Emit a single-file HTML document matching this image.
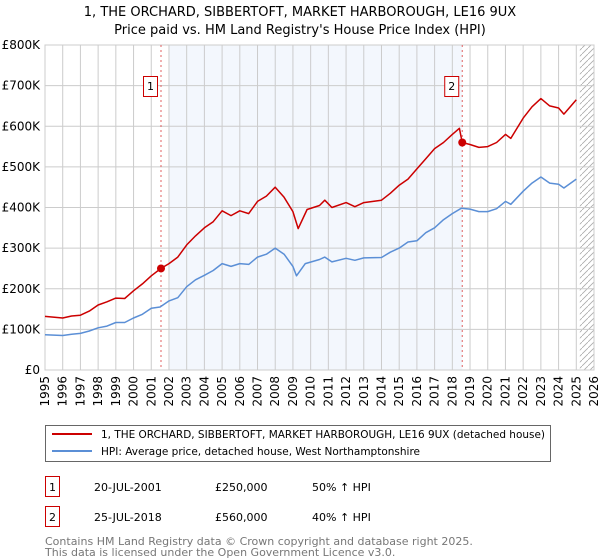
<!DOCTYPE html>
<html><head><meta charset="utf-8"><style>
body{margin:0;background:#fff;font-family:"Liberation Sans","DejaVu Sans",sans-serif;}
#wrap{position:relative;width:600px;height:560px;overflow:hidden}
</style></head><body><div id="wrap">
<svg id="svg" width="600" height="560" xmlns="http://www.w3.org/2000/svg" font-family="DejaVu Sans, Liberation Sans, sans-serif">
<text x="300" y="16" text-anchor="middle" font-size="13">1, THE ORCHARD, SIBBERTOFT, MARKET HARBOROUGH, LE16 9UX</text>
<text x="300" y="34" text-anchor="middle" font-size="13">Price paid vs. HM Land Registry's House Price Index (HPI)</text>
<g id="plot"></g>
<rect x="45.5" y="425.5" width="505" height="36" fill="#fff" stroke="#666"/>
<line x1="52" y1="434" x2="92" y2="434" stroke="#cc0000" stroke-width="2"/>
<text x="101" y="438" font-size="10.5" textLength="444" lengthAdjust="spacingAndGlyphs">1, THE ORCHARD, SIBBERTOFT, MARKET HARBOROUGH, LE16 9UX (detached house)</text>
<line x1="52" y1="451" x2="92" y2="451" stroke="#5b8fd6" stroke-width="2"/>
<text x="101" y="455" font-size="10.5">HPI: Average price, detached house, West Northamptonshire</text>
<g font-size="11">
<rect x="45.5" y="476.5" width="14" height="20" fill="#fff" stroke="#cc0000"/>
<text x="52.5" y="491" text-anchor="middle">1</text>
<text x="94" y="491">20-JUL-2001</text>
<text x="215" y="491">£250,000</text>
<text x="312" y="491">50% ↑ HPI</text>
<rect x="45.5" y="506.5" width="14" height="20" fill="#fff" stroke="#cc0000"/>
<text x="52.5" y="521" text-anchor="middle">2</text>
<text x="94" y="521">25-JUL-2018</text>
<text x="215" y="521">£560,000</text>
<text x="312" y="521">40% ↑ HPI</text>
</g>
<text x="45" y="545" font-size="11" fill="#777">Contains HM Land Registry data © Crown copyright and database right 2025.</text>
<text x="45" y="556" font-size="11" fill="#777">This data is licensed under the Open Government Licence v3.0.</text>
</svg></div>
<script>
const hpiYears=[1995,1996,1996.5,1997,1997.5,1998,1998.5,1999,1999.5,2000,2000.5,2001,2001.5,2002,2002.5,2003,2003.5,2004,2004.5,2005,2005.5,2006,2006.5,2007,2007.5,2008,2008.5,2009,2009.2,2009.7,2010.5,2010.8,2011.2,2012,2012.5,2013,2014,2014.5,2015,2015.5,2016,2016.5,2017,2017.5,2018,2018.5,2019,2019.5,2020,2020.5,2021,2021.3,2022,2022.5,2023,2023.5,2024,2024.3,2025];
const hpiValues=[87,85,88,90,96,104,108,117,117,128,137,152,155,170,178,205,222,233,245,262,255,262,260,278,285,300,285,255,232,262,272,278,266,275,270,276,277,290,300,315,318,338,350,370,385,398,396,390,390,397,415,408,440,460,475,460,457,448,470];
const propYears=[1995,1996,1996.5,1997,1997.5,1998,1998.5,1999,1999.5,2000,2000.5,2001,2001.55,2002,2002.5,2003,2003.5,2004,2004.5,2005,2005.5,2006,2006.5,2007,2007.5,2008,2008.5,2009,2009.3,2009.8,2010.5,2010.8,2011.2,2012,2012.5,2013,2014,2014.5,2015,2015.5,2016,2016.5,2017,2017.5,2018,2018.4,2018.56,2019,2019.5,2020,2020.5,2021,2021.3,2022,2022.5,2023,2023.5,2024,2024.3,2025];
const propValues=[132,128,133,135,145,160,168,177,176,195,212,232,250,262,278,308,330,350,365,392,380,392,385,415,428,450,425,390,348,395,405,418,400,412,402,412,418,435,455,470,495,520,545,560,580,595,560,555,548,550,560,580,570,620,648,668,650,645,630,665];
const saleYears=[2001.55,2018.56];
const saleValues=[250,560];
const saleLabels=["1","2"];
const yTicks=[0,100,200,300,400,500,600,700,800];
const yTickLabels=["£0","£100K","£200K","£300K","£400K","£500K","£600K","£700K","£800K"];
const xTicks=[1995,1996,1997,1998,1999,2000,2001,2002,2003,2004,2005,2006,2007,2008,2009,2010,2011,2012,2013,2014,2015,2016,2017,2018,2019,2020,2021,2022,2023,2024,2025,2026];

const L=45,R=594,T=45,B=370,X0=1995,X1=2026,YMAX=800;
const xs=v=>L+(v-X0)/(X1-X0)*(R-L);
const ys=v=>B-v/YMAX*(B-T);
const NS="http://www.w3.org/2000/svg";
const plot=document.getElementById('plot');
function mk(tag,attrs){const e=document.createElementNS(NS,tag);for(const k in attrs)e.setAttribute(k,attrs[k]);plot.appendChild(e);return e;}
let e=mk('rect',{x:xs(2002),y:T,width:xs(saleYears[1])-xs(2002),height:B-T,fill:'#eef3fc',opacity:0.7});


const defs=document.createElementNS(NS,'defs');defs.innerHTML='<pattern id="hatch" width="6" height="6" patternUnits="userSpaceOnUse"><path d="M0,6 L6,0" stroke="#aaa" stroke-width="0.8"/></pattern>';plot.appendChild(defs);
e=mk('rect',{x:xs(2025.2),y:T,width:R-xs(2025.2),height:B-T,fill:'url(#hatch)'});


xTicks.forEach((t,i)=>{
 const g=mk('line',{x1:xs(t),x2:xs(t),y1:T,y2:B,stroke:'#ccc','stroke-width':1});
 
 
 const lb=mk('text',{x:0,y:0,'font-size':12,'text-anchor':'end',transform:`translate(${xs(t)+4},${B+6}) rotate(-90)`});
 lb.textContent=t;
 
 
});
yTicks.forEach((t,i)=>{
 const g=mk('line',{x1:L,x2:R,y1:ys(t),y2:ys(t),stroke:'#ccc','stroke-width':1});
 
 
 const lb=mk('text',{x:L-5,y:ys(t)+4,'font-size':12,'text-anchor':'end'});
 lb.textContent=yTickLabels[i];
 
 
});
e=mk('rect',{x:L,y:T,width:R-L,height:B-T,fill:'none',stroke:'#ccc'});


saleYears.forEach((y,i)=>{
 const l=mk('line',{x1:xs(y),x2:xs(y),y1:T,y2:B,stroke:'#e06060','stroke-dasharray':'2,3','stroke-width':1});
 
 
 const bx=mk('rect',{x:xs(y)-17.5,y:76.5,width:14,height:20,fill:'#fff',stroke:'#cc0000'});
 
 
 const t=mk('text',{x:xs(y)-10.5,y:90,'font-size':11,'text-anchor':'middle'});
 t.textContent=saleLabels[i];
 
 
});
function line(xsA,vs,col,name){
 const d=xsA.map((x,i)=>(i?'L':'M')+xs(x).toFixed(1)+','+ys(vs[i]).toFixed(1)).join(' ');
 const p=mk('path',{d:d,fill:'none',stroke:col,'stroke-width':1.5,'stroke-linejoin':'round'});
 
 
}
line(hpiYears,hpiValues,'#5b8fd6','hpi-line');
line(propYears,propValues,'#cc0000','property-line');
saleYears.forEach((y,i)=>{
 const c=mk('circle',{cx:xs(y),cy:ys(saleValues[i]),r:4,fill:'#cc0000'});
 
 
});
</script></body></html>
